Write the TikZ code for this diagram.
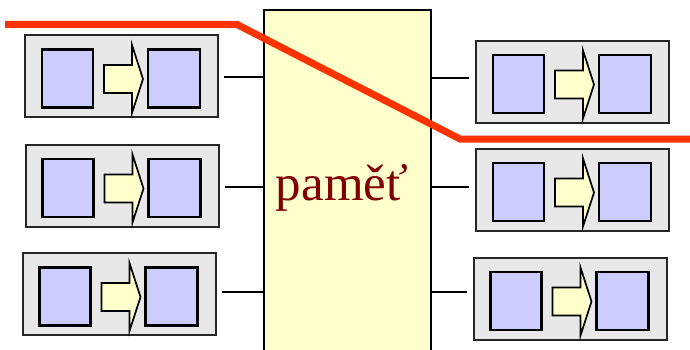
\documentclass[tikz,border=0pt]{standalone}
\usepackage{fontspec}
\setmainfont{Liberation Serif}

\definecolor{boxgray}{HTML}{E8E8E8}
\definecolor{cellblue}{HTML}{CCCCFF}
\definecolor{paleyellow}{HTML}{FFFFCC}
\definecolor{memred}{HTML}{800000}
\definecolor{routered}{HTML}{FF3300}

\tikzset{
    unitbox/.style={draw=black!85, fill=boxgray, line width=2pt,
        minimum width=193pt, minimum height=82pt, inner sep=0pt},
    cell/.style={draw=black, fill=cellblue, line width=2.2pt,
        minimum width=51pt, minimum height=58pt, inner sep=0pt},
    blockarrow/.style={draw=black, fill=paleyellow, line width=1.7pt},
    membox/.style={draw=black, fill=paleyellow, line width=2pt,
        minimum width=167pt, minimum height=344pt, inner sep=0pt},
    memtext/.style={text=memred, font=\fontsize{51}{51}\selectfont,
        anchor=base, inner sep=0pt},
    wire/.style={draw=black, line width=2pt},
    route/.style={draw=routered, line width=7pt}
}

\begin{document}
\begin{tikzpicture}[x=1pt, y=1pt]
    \useasboundingbox (0,0) rectangle (690,349);

    % blok paměti (pokračuje za spodní okraj)
    \node[membox] (mem) at (347.5,167) {};
    \node[memtext] (memlabel) at (342,149) {paměť};

    % jednotky: jméno / střed x / střed y
    \foreach \n/\cx/\cy in {L1/121.5/273, L2/122/163.5, L3/119/55,
                            R1/572.5/267.5, R2/572.5/159.5, R3/570/50.5} {
        \node[unitbox] (\n) at (\cx,\cy) {};
        \node[cell] (\n-a) at ([shift={(-54,-2.5)}]\n.center) {};
        \node[cell, minimum width=52pt] (\n-b) at ([shift={(52.5,-2.5)}]\n.center) {};
        % šipka mezi buňkami
        \draw[blockarrow] ([shift={(-17.5,-17)}]\n.center) -- ++(28,0) -- ++(0,-20)
            -- ++(11,34) -- ++(-11,34) -- ++(0,-20) -- ++(-28,0) -- cycle;
    }

    % spoje k paměti
    \foreach \n/\dy in {L1/-1, L2/-1.5, L3/2} {
        \coordinate (\n-w) at ([shift={(5,\dy)}]\n.east);
        \draw[wire] (\n-w) -- (\n-w -| mem.west);
    }
    \foreach \n/\dy in {R1/3.5, R2/2.5, R3/6.5} {
        \coordinate (\n-w) at ([shift={(-6,\dy)}]\n.west);
        \draw[wire] (\n-w) -- (\n-w -| mem.east);
    }

    % červená čára
    \draw[route] (5,324.5) -- (237,324.5) -- (460,210) -- (690,210);
\end{tikzpicture}
\end{document}
